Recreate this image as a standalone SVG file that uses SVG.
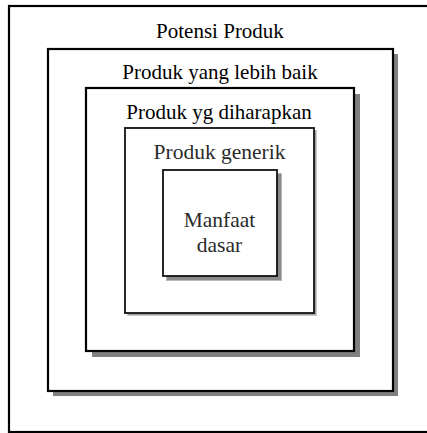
<svg xmlns="http://www.w3.org/2000/svg" width="427" height="433" viewBox="0 0 427 433">
<style>
.box{fill:#fff;stroke:#000;stroke-width:2.2}
.thin{fill:#fff;stroke:#111;stroke-width:1.8}
.sh{fill:#808080}
.t{font-family:'Liberation Serif',serif;font-size:21px;text-anchor:middle;fill:#000}
.g{fill:#2a2a2a;font-size:21.5px}
</style>
<rect width="427" height="433" fill="#fff"/>
<g id="potensi">
<rect class="box" x="9" y="6" width="425" height="426"/>
<text class="t" x="220" y="37.5">Potensi Produk</text>
</g>
<g id="lebih-baik">
<rect class="sh" x="53" y="54" width="345" height="342"/>
<rect class="box" x="48" y="49" width="345" height="342"/>
<text class="t" x="220" y="79">Produk yang lebih baik</text>
</g>
<g id="diharapkan">
<rect class="sh" x="92" y="94" width="268" height="263"/>
<rect class="box" x="86" y="88" width="268" height="263"/>
<text class="t" x="219" y="119">Produk yg diharapkan</text>
</g>
<g id="generik">
<rect x="127" y="130" width="190" height="186" fill="#c8c8c8"/>
<rect x="128" y="131" width="188" height="184" fill="#a0a0a0"/>
<rect class="thin" x="125" y="128" width="189" height="185"/>
<text class="t g" x="219.5" y="159">Produk generik</text>
</g>
<g id="manfaat">
<rect x="166" y="173" width="116" height="108" fill="#b8b8b8"/>
<rect x="167" y="174" width="114" height="106" fill="#8a8a8a"/>
<rect class="thin" x="163" y="170" width="114" height="106"/>
<text class="t g" x="219.5" y="226.5">Manfaat</text>
<text class="t g" x="219.5" y="251.5">dasar</text>
</g>
<g id="connectors"></g>
</svg>
